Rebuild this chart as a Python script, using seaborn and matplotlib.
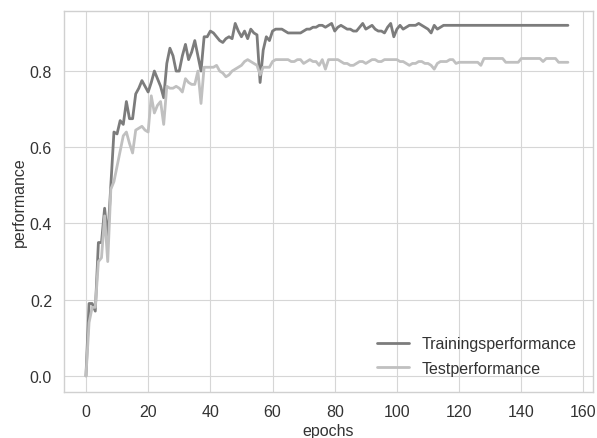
import numpy as np
import pandas as pd
import matplotlib
matplotlib.use("Agg")
import matplotlib.pyplot as plt
import seaborn as sns

train_perf = [
    0.00, 0.19, 0.19, 0.17, 0.35, 0.35, 0.44, 0.36, 0.50, 0.64,
    0.635, 0.67, 0.66, 0.72, 0.675, 0.675, 0.74, 0.755, 0.775, 0.76,
    0.745, 0.77, 0.80, 0.78, 0.76, 0.73, 0.82, 0.86, 0.84, 0.80,
    0.80, 0.84, 0.87, 0.83, 0.85, 0.88, 0.84, 0.80, 0.89, 0.89,
    0.905, 0.90, 0.89, 0.88, 0.875, 0.885, 0.89, 0.885, 0.925, 0.905,
    0.89, 0.905, 0.885, 0.91, 0.90, 0.895, 0.77, 0.855, 0.89, 0.88,
    0.905, 0.91, 0.91, 0.91, 0.905, 0.90, 0.90, 0.90, 0.90, 0.90,
    0.905, 0.91, 0.91, 0.915, 0.915, 0.92, 0.92, 0.915, 0.92, 0.925,
    0.905, 0.915, 0.92, 0.915, 0.91, 0.91, 0.905, 0.905, 0.915, 0.925,
    0.91, 0.915, 0.92, 0.91, 0.905, 0.905, 0.90, 0.915, 0.925, 0.89,
    0.91, 0.92, 0.91, 0.915, 0.92, 0.92, 0.92, 0.925, 0.92, 0.915,
    0.91, 0.90, 0.92, 0.91, 0.915, 0.92, 0.92, 0.92, 0.92, 0.92,
    0.92, 0.92, 0.92, 0.92, 0.92, 0.92, 0.92, 0.92, 0.92, 0.92,
    0.92, 0.92, 0.92, 0.92, 0.92, 0.92, 0.92, 0.92, 0.92, 0.92,
    0.92, 0.92, 0.92, 0.92, 0.92, 0.92, 0.92, 0.92, 0.92, 0.92,
    0.92, 0.92, 0.92, 0.92, 0.92, 0.92,
]

test_perf = [
    0.00, 0.14, 0.18, 0.18, 0.30, 0.31, 0.42, 0.30, 0.49, 0.51,
    0.55, 0.59, 0.63, 0.64, 0.61, 0.585, 0.645, 0.65, 0.655, 0.645,
    0.64, 0.735, 0.69, 0.71, 0.72, 0.66, 0.76, 0.755, 0.755, 0.76,
    0.755, 0.745, 0.78, 0.77, 0.765, 0.765, 0.80, 0.715, 0.81, 0.81,
    0.81, 0.81, 0.815, 0.80, 0.795, 0.785, 0.79, 0.80, 0.805, 0.81,
    0.815, 0.825, 0.83, 0.825, 0.82, 0.815, 0.79, 0.81, 0.81, 0.81,
    0.825, 0.83, 0.83, 0.83, 0.83, 0.83, 0.825, 0.825, 0.83, 0.83,
    0.82, 0.825, 0.83, 0.825, 0.825, 0.815, 0.83, 0.805, 0.83, 0.83,
    0.83, 0.83, 0.825, 0.82, 0.82, 0.815, 0.815, 0.82, 0.825, 0.825,
    0.82, 0.825, 0.83, 0.83, 0.825, 0.825, 0.83, 0.83, 0.83, 0.83,
    0.83, 0.825, 0.825, 0.82, 0.815, 0.82, 0.82, 0.825, 0.825, 0.82,
    0.82, 0.815, 0.805, 0.82, 0.825, 0.825, 0.825, 0.83, 0.83, 0.82,
    0.823, 0.823, 0.823, 0.823, 0.823, 0.823, 0.823, 0.815, 0.833, 0.833,
    0.833, 0.833, 0.833, 0.833, 0.833, 0.823, 0.823, 0.823, 0.823, 0.823,
    0.833, 0.833, 0.833, 0.833, 0.833, 0.833, 0.833, 0.825, 0.833, 0.833,
    0.833, 0.833, 0.823, 0.823, 0.823, 0.823,
]

series_names = ["Trainingsperformance", "Testperformance"]
epochs = list(range(len(train_perf)))

df = pd.concat([
    pd.DataFrame({"epochs": epochs, "performance": train_perf, "series": series_names[0]}),
    pd.DataFrame({"epochs": epochs, "performance": test_perf, "series": series_names[1]}),
])

sns.set_style("whitegrid", {"grid.color": "#d6d6d6", "axes.edgecolor": "#d0d0d0",
                            "xtick.bottom": False, "ytick.left": False})
plt.rcParams["font.family"] = ["Liberation Sans", "DejaVu Sans"]

fig = plt.figure(figsize=(5.97, 4.39), dpi=100)
ax = fig.add_axes([0.107, 0.105, 0.886, 0.868])

sns.lineplot(data=df, x="epochs", y="performance", hue="series",
             palette={series_names[0]: "#7c7c7c", series_names[1]: "#c0c0c0"},
             linewidth=2.0, ax=ax)

ax.set_xlim(-7.1, 163.0)
ax.set_ylim(-0.042, 0.958)
ax.set_xticks(range(0, 161, 20))
ax.set_yticks([0.0, 0.2, 0.4, 0.6, 0.8])
ax.tick_params(labelsize=11.5, colors="#333333", pad=5)
ax.set_xlabel("epochs", fontsize=11.5, color="#333333", labelpad=3)
ax.set_ylabel("performance", fontsize=11.5, color="#333333", labelpad=2)
for s in ax.spines.values():
    s.set_linewidth(1.0)

leg = ax.legend(loc="lower right", frameon=False, fontsize=11.5, handlelength=2.0,
                labelspacing=0.6, borderaxespad=0.6)
for t in leg.get_texts():
    t.set_color("#333333")

fig.savefig("out.png", dpi=100)
